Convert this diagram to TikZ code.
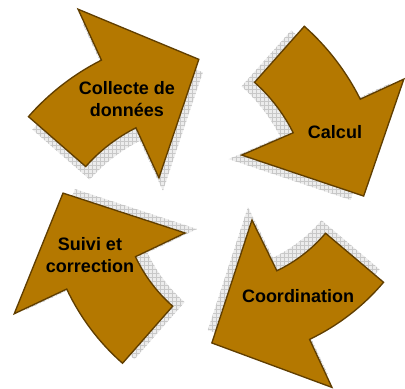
\documentclass[tikz,border=0pt]{standalone}
\usepackage{fontspec}
\setmainfont{Liberation Sans}
\usetikzlibrary{patterns}

\definecolor{arrowfill}{RGB}{180,120,0}
\definecolor{arrowline}{RGB}{96,62,0}
\definecolor{shadowgray}{RGB}{236,236,236}
\definecolor{shadowline}{RGB}{200,200,200}

\tikzset{
  gridshadow/.style 2 args={
    preaction={fill=shadowgray,draw=none,transform canvas={xshift=#1,yshift=#2}},
    preaction={pattern=grid,pattern color=shadowline,draw=none,transform canvas={xshift=#1,yshift=#2}}}
}

\begin{document}
\begin{tikzpicture}[x=0.75pt,y=0.75pt]
      \tikzstyle{cyclearrow}=[fill=arrowfill,draw=arrowline,line width=1pt,line join=miter]
      \tikzstyle{arrowtext}=[font=\bfseries\fontsize{13.5}{16.5}\selectfont,align=center,text=black]

      \useasboundingbox (0,0) rectangle (405,389);

      % upper left: data collection
      \begin{scope}[shift={(211,112)}]
        \path[cyclearrow,gridshadow={3pt}{-9.75pt}]
          (138.7:243) arc[start angle=138.7,end angle=116.8,radius=243]
          -- (116.4:299) -- (93.2:218) -- (117.7:112)
          -- (116.7:167) arc[start angle=116.7,end angle=138.6,radius=167]
          -- cycle;
      \end{scope}

      % upper right: computation
      \begin{scope}[shift={(143,181)}]
        \path[cyclearrow,gridshadow={-9.75pt}{-3pt}]
          (48.4:243) arc[start angle=48.4,end angle=26.6,radius=243]
          -- (26.3:291) -- (3.1:221) -- (28.2:112)
          -- (26.6:168) arc[start angle=26.6,end angle=48.4,radius=168]
          -- cycle;
      \end{scope}

      % lower left: follow-up
      \begin{scope}[shift={(273,197)}]
        \path[cyclearrow,gridshadow={9pt}{3pt}]
          (228.7:228) arc[start angle=228.7,end angle=205.2,radius=228]
          -- (205.2:286) -- (180.3:210) -- (205.0:97)
          -- (205.2:152) arc[start angle=205.2,end angle=228.7,radius=152]
          -- cycle;
      \end{scope}

      % lower right: coordination
      \begin{scope}[shift={(214,250)}]
        \path[cyclearrow,gridshadow={-3pt}{9.75pt}]
          (319.8:222) arc[start angle=319.8,end angle=295.5,radius=222]
          -- (295.4:275) -- (269.4:204) -- (295.1:89.5)
          -- (295.5:146) arc[start angle=295.5,end angle=319.8,radius=146]
          -- cycle;
      \end{scope}

      \node[arrowtext](collecte) at (127,290) {Collecte de\\données};
      \node[arrowtext](calcul) at (335,257) {Calcul};
      \node[arrowtext](suivi) at (90,134) {Suivi et\\correction};
      \node[arrowtext](coord) at (298,93) {Coordination};
\end{tikzpicture}
\end{document}
